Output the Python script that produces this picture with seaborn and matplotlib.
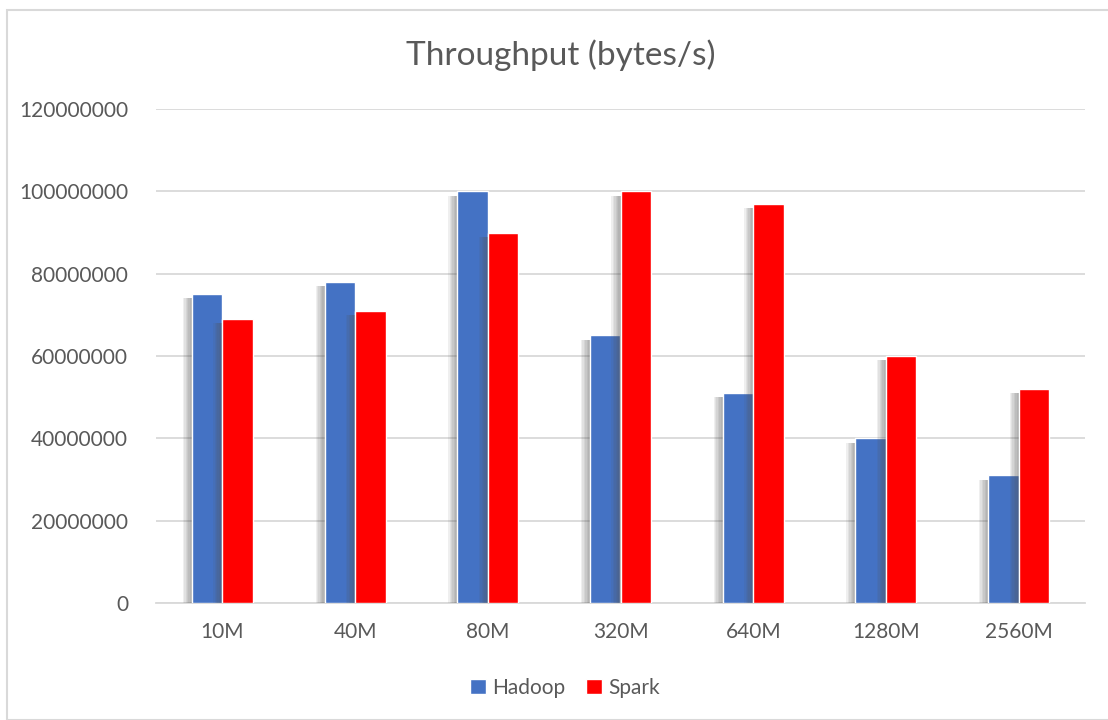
import numpy as np
import pandas as pd
import matplotlib
matplotlib.use("Agg")
import matplotlib.pyplot as plt
import matplotlib.patheffects as pe
from matplotlib.patches import Rectangle
import seaborn as sns

# data
sizes = ["10M", "40M", "80M", "320M", "640M", "1280M", "2560M"]
hadoop = [75000000, 78000000, 100000000, 65000000, 51000000, 40000000, 31000000]
spark = [69000000, 71000000, 90000000, 100000000, 97000000, 60000000, 52000000]
yticks = [0, 20000000, 40000000, 60000000, 80000000, 100000000, 120000000]

df = pd.DataFrame({
    "size": sizes * 2,
    "value": hadoop + spark,
    "system": ["Hadoop"] * len(sizes) + ["Spark"] * len(sizes),
})

sns.set_theme(style="white")
plt.rcParams["font.family"] = ["Lato", "DejaVu Sans"]
text_col = "#595959"

fig = plt.figure(figsize=(11.08, 7.2), dpi=100)
ax = fig.add_axes([156 / 1108, 1 - 603 / 720, (1085 - 156) / 1108, (603 - 109) / 720])

sns.barplot(data=df, x="size", y="value", hue="system",
            palette={"Hadoop": "#4472C4", "Spark": "#FF0000"},
            saturation=1, width=0.46, ax=ax, legend=True, zorder=3)

# soft drop shadow to the left, like the Excel original
shadow = [pe.SimplePatchShadow(offset=(-k, -3), shadow_rgbFace="#555555", alpha=0.09)
          for k in (6.5, 5.5, 4.5, 3.5, 2.5, 1.5)]
for p in ax.patches:
    p.set_path_effects(shadow + [pe.Normal()])

ax.set_ylim(0, 120000000)
ax.set_yticks(yticks)
ax.set_yticklabels([str(v) for v in yticks])
ax.yaxis.grid(True, color="#d9d9d9", linewidth=1.3, zorder=0)
ax.set_axisbelow(True)
for s in ["top", "right", "left"]:
    ax.spines[s].set_visible(False)
ax.spines["bottom"].set_color("#d9d9d9")
ax.spines["bottom"].set_linewidth(1.3)
ax.tick_params(axis="both", colors=text_col, labelsize=15, length=0)
ax.tick_params(axis="y", pad=20)
ax.tick_params(axis="x", pad=14)
ax.set_xlabel("")
ax.set_ylabel("")

fig.text(561 / 1108, 1 - 55 / 720, "Throughput (bytes/s)", ha="center", va="center",
         fontsize=24, color=text_col)

handles, labels = ax.get_legend_handles_labels()
ax.legend(handles, labels, loc="center", bbox_to_anchor=(565 / 1108, 1 - 688 / 720),
          bbox_transform=fig.transFigure, ncol=2, frameon=False, fontsize=15,
          handlelength=0.75, handleheight=0.75, handletextpad=0.3, columnspacing=1.0,
          labelcolor=text_col)
for h in ax.get_legend().legend_handles:
    h.set_path_effects([])

# outer chart border
fig.patches.append(Rectangle((7 / 1108, 0), 1.2, 1 - 10 / 720, transform=fig.transFigure,
                             fill=False, edgecolor="#d9d9d9", linewidth=1.5))

fig.savefig("out.png", dpi=100)
